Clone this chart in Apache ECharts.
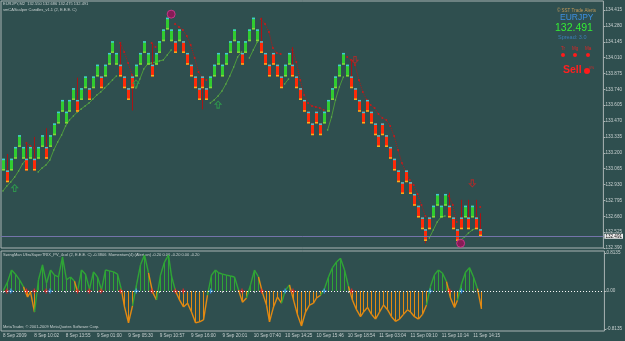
<!DOCTYPE html>
<html>
<head>
<meta charset="utf-8">
<script src="https://cdn.jsdelivr.net/npm/echarts@6/dist/echarts.min.js"></script>
<style>
html, body { margin: 0; padding: 0; background: #2f4f4f; }
#main { width: 625px; height: 341px; }
</style>
</head>
<body>
<div id="main"></div>
<script>
// EURJPY candles (one box = 10 pips)
var opens = [133.05,133.05,133.05,133.15,133.25,133.15,133.15,133.15,133.15,133.15,
  133.25,133.25,133.25,133.35,133.45,133.55,133.45,133.55,133.65,133.65,
  133.65,133.75,133.75,133.75,133.85,133.85,133.85,133.95,134.05,133.95,
  133.95,133.85,133.75,133.85,133.85,133.95,134.05,133.95,133.95,133.95,
  134.05,134.15,134.25,134.15,134.15,134.15,134.15,134.05,133.95,133.85,
  133.75,133.85,133.75,133.75,133.85,133.95,133.85,133.95,134.05,134.15,
  134.05,134.05,134.05,134.15,134.25,134.15,134.15,134.05,133.95,134.05,
  133.95,133.85,133.85,133.95,133.95,133.85,133.75,133.65,133.55,133.45,
  133.55,133.45,133.45,133.55,133.65,133.75,133.85,133.95,133.85,133.85,
  133.75,133.65,133.55,133.65,133.55,133.45,133.35,133.45,133.35,133.25,
  133.15,133.05,132.95,133.05,132.95,132.85,132.75,132.65,132.55,132.65,
  132.65,132.75,132.65,132.75,132.75,132.65,132.55,132.65,132.65,132.65,
  132.65,132.65,132.55];
var closes = [133.15,132.95,133.15,133.25,133.35,133.25,133.05,133.25,133.05,133.25,
  133.35,133.15,133.35,133.45,133.55,133.65,133.55,133.65,133.75,133.55,
  133.75,133.85,133.65,133.85,133.95,133.75,133.95,134.05,134.15,134.05,
  133.85,133.75,133.65,133.75,133.95,134.05,134.15,134.05,133.85,134.05,
  134.15,134.25,134.35,134.25,134.05,134.25,134.05,133.95,133.85,133.75,
  133.65,133.75,133.65,133.85,133.95,134.05,133.95,134.05,134.15,134.25,
  134.15,133.95,134.15,134.25,134.35,134.25,134.05,133.95,133.85,133.95,
  133.85,133.75,133.95,134.05,133.85,133.75,133.65,133.55,133.45,133.35,
  133.45,133.35,133.55,133.65,133.75,133.85,133.95,134.05,133.95,133.75,
  133.65,133.55,133.45,133.55,133.45,133.35,133.25,133.35,133.25,133.15,
  133.05,132.95,132.85,132.95,132.85,132.75,132.65,132.55,132.45,132.55,
  132.75,132.85,132.75,132.85,132.65,132.55,132.45,132.55,132.75,132.55,
  132.75,132.55,132.491];
// [bar, price] where a wick reaches beyond the body
var upperWicks = [[1,133.19],[6,133.29],[8,133.335],[11,133.41],[19,133.84],[30,134.14],
  [38,134.13],[66,134.35],[74,134.10],[89,133.99],[114,132.86],[117,132.80],[119,132.80],
  [121,132.80],[122,132.686]];
var lowerWicks = [[33,133.56],[51,133.57],[108,132.43],[116,132.43],[122,132.475]];

// trailing line segments: [first bar, values...]
var trailUpSegs = [
  [0, [132.875,132.918,132.952,132.994,133.045,133.105,133.147]],
  [9, [133.037,133.071,133.096,133.139,133.224,133.292,133.352,133.428,133.479,133.513,
       133.547,133.573,133.599,133.624,133.658,133.692,133.718,133.752,133.786,133.820,133.854]],
  [34, [133.752,133.828,133.913,133.956,133.965,133.973,133.982,133.990,134.033,134.075]],
  [53, [133.624,133.650,133.684,133.726,133.786,133.854,133.930,134.016,134.058]],
  [63, [134.007,134.075,134.143]],
  [72, [133.786,133.828]],
  [83, [133.394,133.505,133.650,133.760,133.845]],
  [109, [132.475,132.543,132.611,132.654,132.662]],
  [117, [132.458,132.484,132.518,132.543,132.560]]
];
var trailDnSegs = [
  [6, [133.284,133.258,133.241]],
  [30, [134.135,134.058,133.964,133.862]],
  [38, [134.135,134.101]],
  [44, [134.296,134.271,134.245,134.194,134.118,134.007,133.888,133.837,133.820]],
  [66, [134.339,134.296,134.228,134.092,134.050,134.041]],
  [74, [134.075,133.973,133.820,133.692,133.624,133.599,133.590,133.581,133.564]],
  [88, [134.016,133.990,133.947,133.820,133.718,133.650,133.607,133.581,133.530,133.496,
        133.479,133.428,133.343,133.224,133.113,133.037,132.969,132.926,132.850,132.756,132.662]],
  [114, [132.833,132.756,132.611]],
  [122, [132.739]]
];

var upArrows = [[3,132.90],[34,133.79],[55,133.61]];
var downArrows = [[90,133.99],[120,132.94]];
var circles = [[43,134.38],[117,132.43]];

// SwingMan UltraSuperTRIX values
var osc = [0.02,0.19,0.45,0.36,0.24,0.09,-0.13,-0.02,-0.45,0.24,
  0.56,0.17,0.45,0.34,0.30,0.73,0.24,0.30,0.21,-0.02,
  0.45,0.36,0.04,0.41,0.30,0.02,0.45,0.43,0.41,0.36,
  0.02,-0.34,-0.68,-0.32,0.13,0.56,0.77,0.39,-0.02,-0.19,
  0.34,0.62,0.77,0.32,0.0,-0.19,-0.34,-0.26,-0.45,-0.68,
  -0.66,-0.62,-0.09,0.34,0.45,0.39,0.36,0.34,0.32,0.30,
  0.02,-0.24,-0.15,0.13,0.45,0.30,-0.04,-0.30,-0.66,-0.34,
  -0.13,-0.26,0.02,0.13,-0.19,-0.51,-0.75,-0.45,-0.30,-0.26,
  -0.15,-0.09,0.05,0.30,0.50,0.62,0.70,0.45,0.10,-0.20,
  -0.40,-0.55,-0.45,-0.35,-0.50,-0.60,-0.45,-0.30,-0.40,-0.55,
  -0.65,-0.60,-0.50,-0.40,-0.45,-0.55,-0.60,-0.50,-0.30,0.10,
  0.35,0.45,0.38,0.20,-0.15,-0.35,-0.20,0.15,0.40,0.50,
  0.30,0.05,-0.38];
var redCrosses = [1,6,8,11,19,22,25,30,38,44,46,61,66,74,89,114];
var blueCrosses = [2,12,34,53,72,82,109,117];

var timeLabels = ['8 Sep 2009','8 Sep 10:02','8 Sep 13:55','9 Sep 01:00','9 Sep 05:30',
  '9 Sep 10:57','9 Sep 16:00','9 Sep 20:01','10 Sep 07:40','10 Sep 14:25','10 Sep 15:46',
  '10 Sep 18:54','11 Sep 03:04','11 Sep 09:10','11 Sep 10:14','11 Sep 14:15'];

var SLOTS = 154;
var cats = [];
for (var i = 0; i < SLOTS; i++) cats.push(String(i));

var candleData = opens.map(function (o, i) {
  var c = closes[i];
  return [i, o, c, Math.min(o, c), Math.max(o, c)];
});
upperWicks.forEach(function (w) { candleData[w[0]][4] = w[1]; });
lowerWicks.forEach(function (w) { candleData[w[0]][3] = w[1]; });

function segsToData(segs) {
  var arr = [];
  for (var i = 0; i < opens.length; i++) arr.push(null);
  segs.forEach(function (s) {
    s[1].forEach(function (v, k) { arr[s[0] + k] = v; });
  });
  return arr;
}

var oscData = osc.map(function (v, i) { return [i, v, i > 0 ? osc[i - 1] : v]; });

var FONT = '"Liberation Sans", "DejaVu Sans", sans-serif';
var AXIS_TXT = '#c9d1d1';
var BORDER = '#aab4b4';

function renderCandle(params, api) {
  var i = api.value(0);
  var o = api.value(1), c = api.value(2), lo = api.value(3), hi = api.value(4);
  var pO = api.coord([i, o]), pC = api.coord([i, c]);
  var pH = api.coord([i, hi]), pL = api.coord([i, lo]);
  var x = Math.round(pO[0]);
  var up = c >= o;
  var top = Math.min(pO[1], pC[1]), bot = Math.max(pO[1], pC[1]);
  return {
    type: 'group',
    children: [
      { type: 'line', shape: { x1: x + 0.5, y1: pH[1], x2: x + 0.5, y2: pL[1] },
        style: { stroke: up ? '#2a962a' : '#a81414', lineWidth: 1 } },
      { type: 'rect', shape: { x: x - 1, y: top, width: 3, height: bot - top },
        style: { fill: up ? '#30cc30' : '#ff2a08' } },
      { type: 'rect', shape: { x: x - 1, y: top, width: 3, height: 1.5 },
        style: { fill: '#3fc6d6' } },
      { type: 'rect', shape: { x: x - 1, y: bot - 1.5, width: 3, height: 1.5 },
        style: { fill: up ? '#8ad23a' : '#f2b51c' } }
    ]
  };
}

function renderOsc(params, api) {
  var i = api.value(0), v = api.value(1), pv = api.value(2);
  var p0 = api.coord([i, 0]), p1 = api.coord([i, v]);
  var col = v >= 0 ? '#2fa536' : '#e38a12';
  var x = Math.round(p1[0]) + 0.5;
  var children = [
    { type: 'line', shape: { x1: x, y1: p0[1], x2: x, y2: p1[1] }, style: { stroke: col, lineWidth: 1 } }
  ];
  if (i > 0) {
    var pp = api.coord([i - 1, pv]);
    children.push({ type: 'line', shape: { x1: Math.round(pp[0]) + 0.5, y1: pp[1], x2: x, y2: p1[1] },
      style: { stroke: col, lineWidth: 1.4 } });
  }
  return { type: 'group', children: children };
}

var arrowPath = 'path://M5,0 L10,5 L7,5 L7,11 L3,11 L3,5 L0,5 Z';
var plusPath = 'path://M3,0 L5,0 L5,3 L8,3 L8,5 L5,5 L5,8 L3,8 L3,5 L0,5 L0,3 L3,3 Z';

var chart = echarts.init(document.getElementById('main'));
chart.setOption({
  backgroundColor: '#2f4f4f',
  animation: false,
  grid: [
    { left: 1, top: 1, width: 605, height: 247, show: true, borderColor: BORDER, borderWidth: 1 },
    { left: 1, top: 251, width: 605, height: 80, show: true, borderColor: BORDER, borderWidth: 1 }
  ],
  xAxis: [
    { gridIndex: 0, type: 'category', data: cats, boundaryGap: true,
      axisLine: { show: false }, axisTick: { show: false }, axisLabel: { show: false }, splitLine: { show: false } },
    { gridIndex: 1, type: 'category', data: cats, boundaryGap: true,
      axisLine: { show: false },
      axisTick: { show: true, alignWithLabel: true, length: 2, lineStyle: { color: BORDER },
        interval: function (idx) { return idx % 8 === 0 && idx / 8 < timeLabels.length; } },
      axisLabel: { show: true, interval: 7, align: 'left', margin: 2, color: AXIS_TXT,
        fontSize: 4.6, fontFamily: FONT,
        formatter: function (v) { var n = parseInt(v, 10); return n % 8 === 0 ? (timeLabels[n / 8] || '') : ''; } },
      splitLine: { show: false } }
  ],
  yAxis: [
    { gridIndex: 0, type: 'value', position: 'right', min: 132.39, max: 134.492, interval: 0.135,
      axisLine: { show: false }, splitLine: { show: false },
      axisTick: { show: true, length: 2, lineStyle: { color: BORDER } },
      axisLabel: { color: AXIS_TXT, fontSize: 4.6, fontFamily: FONT, margin: 2, showMaxLabel: false,
        formatter: function (v) { return v.toFixed(3); } } },
    { gridIndex: 1, type: 'value', position: 'right', min: -0.856, max: 0.856,
      axisLine: { show: false }, splitLine: { show: false },
      axisTick: { show: true, length: 2, lineStyle: { color: BORDER }, customValues: [-0.8135, 0, 0.8135] },
      axisLabel: { color: AXIS_TXT, fontSize: 4.6, fontFamily: FONT, margin: 2,
        customValues: [-0.8135, 0, 0.8135],
        formatter: function (v) { return Math.abs(v) < 1e-9 ? '0.00' : v.toFixed(4); } } }
  ],
  series: [
    { type: 'line', xAxisIndex: 0, yAxisIndex: 0, data: segsToData(trailUpSegs), connectNulls: false,
      symbol: 'circle', symbolSize: 1.6, showSymbol: true,
      lineStyle: { color: '#4c9a3c', width: 1 }, itemStyle: { color: '#63b04a' }, z: 2 },
    { type: 'line', xAxisIndex: 0, yAxisIndex: 0, data: segsToData(trailDnSegs), connectNulls: false,
      symbol: 'circle', symbolSize: 2, showSymbol: true,
      lineStyle: { color: '#b01818', width: 1, type: 'dotted' }, itemStyle: { color: '#c41c1c' }, z: 2 },
    { type: 'custom', xAxisIndex: 0, yAxisIndex: 0, data: candleData, renderItem: renderCandle,
      encode: { x: 0, y: [1, 2, 3, 4] }, z: 3,
      markLine: { silent: true, symbol: ['none', 'none'],
        lineStyle: { color: '#7474aa', width: 1, type: 'solid' },
        label: { show: true, position: 'end', formatter: '132.491', color: '#000', fontSize: 4.6,
          fontFamily: FONT, backgroundColor: '#eeeeee', padding: [0, 1], distance: 1 },
        data: [{ yAxis: 132.491 }] } },
    { type: 'scatter', xAxisIndex: 0, yAxisIndex: 0, data: upArrows, symbol: arrowPath, symbolSize: [6, 7],
      itemStyle: { color: 'rgba(0,0,0,0)', borderColor: '#2ea64c', borderWidth: 1 }, z: 4 },
    { type: 'scatter', xAxisIndex: 0, yAxisIndex: 0, data: downArrows, symbol: arrowPath, symbolSize: [6, 7],
      symbolRotate: 180, itemStyle: { color: 'rgba(0,0,0,0)', borderColor: '#c42424', borderWidth: 1 }, z: 4 },
    { type: 'scatter', xAxisIndex: 0, yAxisIndex: 0, data: circles, symbol: 'circle', symbolSize: 8,
      itemStyle: { color: '#9c0f58', borderColor: '#dd3a98', borderWidth: 1 }, z: 4 },
    { type: 'custom', xAxisIndex: 1, yAxisIndex: 1, data: oscData, renderItem: renderOsc,
      encode: { x: 0, y: 1 }, z: 2,
      markLine: { silent: true, symbol: ['none', 'none'], label: { show: false },
        lineStyle: { color: '#ffffff', width: 1, type: [1, 2] }, data: [{ yAxis: 0 }] } },
    { type: 'scatter', xAxisIndex: 1, yAxisIndex: 1, data: redCrosses.map(function (i) { return [i, 0]; }),
      symbol: plusPath, symbolSize: 5, itemStyle: { color: '#ff2222' }, z: 4 },
    { type: 'scatter', xAxisIndex: 1, yAxisIndex: 1, data: blueCrosses.map(function (i) { return [i, 0]; }),
      symbol: plusPath, symbolSize: 5, itemStyle: { color: '#3c9cff' }, z: 4 }
  ],
  graphic: [
    { type: 'text', x: 3, y: 2, style: { text: 'EURJPY,M2  132.550 132.686 132.475 132.491', fill: AXIS_TXT, fontSize: 4, fontFamily: FONT } },
    { type: 'text', x: 3, y: 8, style: { text: 'smCAScalper Candles_v1.1 (2, E.E.E. C)', fill: AXIS_TXT, fontSize: 4, fontFamily: FONT } },
    { type: 'text', x: 3, y: 253, style: { text: 'SwingMan UltraSuperTRIX_PV_4col (2, E.E.E. C) -0.3806  Momentum(4) (Alert on) -0.20 0.00 -0.20 0.00 -0.20', fill: AXIS_TXT, fontSize: 4, fontFamily: FONT } },
    { type: 'text', x: 3, y: 325, style: { text: 'MetaTrader, © 2001-2009 MetaQuotes Software Corp.', fill: AXIS_TXT, fontSize: 4, fontFamily: FONT } },
    { type: 'text', x: 557, y: 8, style: { text: '© SST Trade Alerts', fill: '#c39a5a', fontSize: 4.5, fontFamily: FONT } },
    { type: 'text', x: 560, y: 13, style: { text: 'EURJPY', fill: '#3d8fe0', fontSize: 8.5, fontFamily: FONT } },
    { type: 'text', x: 555, y: 23, style: { text: '132.491', fill: '#34ec34', fontSize: 10.5, fontFamily: FONT } },
    { type: 'text', x: 558, y: 34, style: { text: 'Spread: 3.0', fill: '#3b7fb8', fontSize: 5.5, fontFamily: FONT } },
    { type: 'text', x: 561, y: 46, style: { text: 'Tr', fill: '#e02424', fontSize: 4.5, fontFamily: FONT } },
    { type: 'text', x: 572, y: 46, style: { text: 'Mg', fill: '#e02424', fontSize: 4.5, fontFamily: FONT } },
    { type: 'text', x: 585, y: 46, style: { text: 'Ma', fill: '#e02424', fontSize: 4.5, fontFamily: FONT } },
    { type: 'circle', shape: { cx: 563, cy: 55, r: 2 }, style: { fill: '#ff1a1a' } },
    { type: 'circle', shape: { cx: 575, cy: 55, r: 2 }, style: { fill: '#ff1a1a' } },
    { type: 'circle', shape: { cx: 588, cy: 55, r: 2 }, style: { fill: '#ff1a1a' } },
    { type: 'text', x: 563, y: 65, style: { text: 'Sell', fill: '#ff2020', fontSize: 10.5, fontWeight: 'bold', fontFamily: FONT } },
    { type: 'circle', shape: { cx: 587, cy: 71, r: 3 }, style: { fill: '#ff1a1a' } },
    { type: 'text', x: 589, y: 66, style: { text: '0%', fill: '#e02424', fontSize: 3.5, fontFamily: FONT } }
  ]
});
</script>
</body>
</html>
